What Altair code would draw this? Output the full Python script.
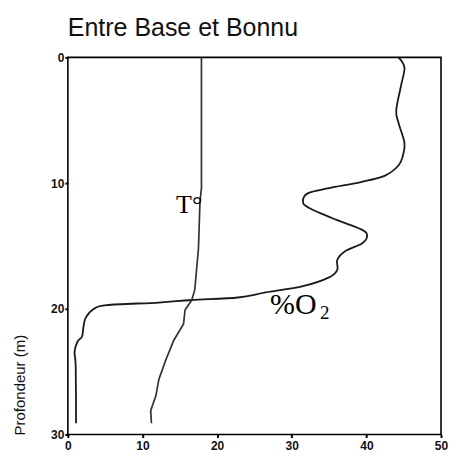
import altair as alt
import pandas as pd

# Oxygen saturation profile (%O2) vs depth (m)
o2_depth = [0, 0.8, 2.1, 4.2, 5.2, 6.8, 7.8, 8.6, 9.4, 9.9, 10.4, 10.8, 11.5, 12.0,
            12.9, 13.7, 14.2, 14.8, 15.4, 16.1, 16.9, 17.5, 18.2, 18.7, 19.1, 19.3,
            19.5, 19.7, 20.0, 20.7, 21.4, 22.2, 22.6, 23.4, 24.6, 29.1]
o2_value = [44.3, 45.1, 44.7, 44.0, 44.3, 45.1, 44.9, 44.3, 42.5, 39.4, 35.0, 32.2, 31.5, 32.4,
            35.9, 39.4, 40.1, 39.4, 37.2, 36.1, 36.1, 35.0, 31.5, 26.5, 22.8, 16.6,
            12.2, 5.2, 3.5, 2.4, 2.1, 1.9, 1.3, 0.9, 1.05, 1.1]

# Temperature profile (°C) vs depth (m)
t_depth = [0, 10.4, 11.5, 15.2, 18.5, 19.3, 20.1, 21.2, 22.5, 24.1, 25.6, 26.9, 28.1, 29.1]
t_value = [17.9, 17.9, 17.7, 17.5, 17.0, 16.6, 15.7, 15.5, 14.2, 13.1, 12.2, 11.8, 11.1, 11.2]

# Annotations
label_text = ["T°", "%O", "2"]
label_x = [14.5, 27.1, 33.8]
label_depth = [12.4, 20.4, 20.8]
label_size = [26, 30, 19]

x_ticks = [0, 10, 20, 30, 40, 50]
y_ticks = [0, 10, 20, 30]

o2_df = pd.DataFrame({"depth": o2_depth, "value": o2_value, "idx": range(len(o2_depth))})
t_df = pd.DataFrame({"depth": t_depth, "value": t_value, "idx": range(len(t_depth))})
lab_df = pd.DataFrame({"text": label_text, "x": label_x, "depth": label_depth, "size": label_size})

x_scale = alt.Scale(domain=[0, 50], nice=False, zero=False)
y_scale = alt.Scale(domain=[0, 30], nice=False, reverse=True)

x_axis = alt.Axis(values=x_ticks, title=None, grid=False, domain=False, tickSize=3,
                  tickWidth=2, tickColor="black", labelFont="Liberation Sans",
                  labelFontSize=12, labelFontWeight="bold", labelColor="#111",
                  labelPadding=3, labelFlush=False)
y_axis = alt.Axis(values=y_ticks, title="Profondeur (m)", grid=False, domain=False,
                  tickSize=3, tickWidth=2, tickColor="black", labelFont="Liberation Sans",
                  labelFontSize=12, labelFontWeight="bold", labelColor="#111",
                  labelPadding=1, labelFlush=False,
                  titleFont="Liberation Sans", titleFontSize=15, titleFontWeight="normal",
                  titleColor="#111", titleAngle=270, titleX=-48, titleY=328,
                  titleAlign="center", titleBaseline="middle")

o2_line = alt.Chart(o2_df).mark_line(color="#1a1a1a", strokeWidth=1.8, interpolate="cardinal").encode(
    x=alt.X("value:Q", scale=x_scale, axis=x_axis),
    y=alt.Y("depth:Q", scale=y_scale, axis=y_axis),
    order="idx:Q",
)

t_line = alt.Chart(t_df).mark_line(color="#333333", strokeWidth=1.7).encode(
    x=alt.X("value:Q", scale=x_scale),
    y=alt.Y("depth:Q", scale=y_scale),
    order="idx:Q",
)

labels = alt.Chart(lab_df).mark_text(font="Liberation Serif", align="left",
                                     baseline="alphabetic", color="black").encode(
    x=alt.X("x:Q", scale=x_scale),
    y=alt.Y("depth:Q", scale=y_scale),
    text="text:N",
    size=alt.Size("size:Q", scale=None, legend=None),
)

chart = alt.layer(o2_line, t_line, labels).properties(
    width=374,
    height=378,
    padding={"left": 5, "top": 8, "right": 0, "bottom": 0},
    title=alt.TitleParams("Entre Base et Bonnu", anchor="start", frame="group",
                          font="Liberation Sans", fontSize=25, fontWeight="normal",
                          color="#111", baseline="alphabetic", offset=-10),
).configure_view(stroke="black", strokeWidth=1.6)

chart.save("out.html", embed_options={"renderer": "svg", "actions": False})
